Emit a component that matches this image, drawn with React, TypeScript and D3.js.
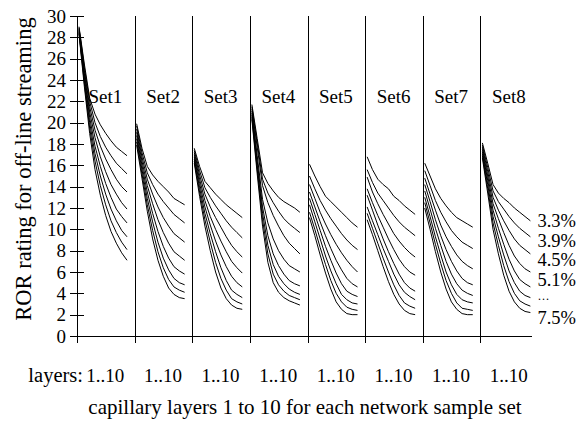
import React from 'react';
import * as d3 from 'd3';

// ROR rating per capillary layer (1..10), one row per loss rate 3.3% .. 7.5%
const set1Ror = [
  [29.0, 25.5, 22.3, 20.8, 19.8, 19.0, 18.3, 17.7, 17.3, 16.9],
  [28.9, 25.2, 22.0, 20.0, 18.7, 17.7, 16.9, 16.2, 15.7, 15.2],
  [28.8, 24.9, 21.5, 19.3, 17.8, 16.6, 15.6, 14.7, 14.0, 13.5],
  [28.7, 24.6, 21.0, 18.6, 16.8, 15.4, 14.2, 13.3, 12.5, 11.9],
  [28.6, 24.3, 20.5, 17.8, 15.9, 14.3, 13.0, 11.9, 11.2, 10.6],
  [28.5, 24.0, 20.0, 17.1, 15.0, 13.3, 11.9, 10.8, 9.9, 9.3],
  [28.4, 23.7, 19.5, 16.4, 14.1, 12.3, 10.8, 9.7, 8.8, 8.1],
  [28.3, 23.4, 19.0, 15.6, 13.2, 11.3, 9.8, 8.7, 7.8, 7.1],
];
const set2Ror = [
  [19.9, 17.6, 15.9, 15.1, 14.5, 14.0, 13.5, 12.9, 12.6, 12.3],
  [19.7, 17.2, 15.3, 14.2, 13.3, 12.6, 12.0, 11.4, 11.0, 10.6],
  [19.4, 16.8, 14.7, 13.3, 12.1, 11.1, 10.3, 9.6, 9.2, 8.8],
  [19.1, 16.4, 14.1, 12.4, 10.9, 9.7, 8.7, 7.9, 7.5, 7.1],
  [18.8, 16.0, 13.5, 11.5, 9.8, 8.4, 7.3, 6.5, 6.1, 5.8],
  [18.5, 15.6, 12.9, 10.7, 8.8, 7.3, 6.2, 5.4, 5.0, 4.8],
  [18.2, 15.2, 12.3, 9.9, 7.9, 6.4, 5.3, 4.6, 4.3, 4.1],
  [17.9, 14.8, 11.7, 9.1, 7.1, 5.6, 4.5, 3.9, 3.6, 3.5],
];
const set3Ror = [
  [17.6, 15.9, 14.5, 13.9, 13.3, 12.8, 12.3, 11.9, 11.5, 11.1],
  [17.4, 15.5, 13.9, 13.0, 12.2, 11.5, 10.8, 10.2, 9.7, 9.2],
  [17.2, 15.1, 13.3, 12.1, 11.1, 10.2, 9.3, 8.5, 7.9, 7.4],
  [17.0, 14.7, 12.7, 11.2, 10.0, 8.9, 7.9, 7.0, 6.4, 5.9],
  [16.8, 14.3, 12.1, 10.4, 8.9, 7.6, 6.5, 5.6, 5.0, 4.6],
  [16.6, 13.9, 11.5, 9.6, 7.9, 6.4, 5.2, 4.3, 3.9, 3.6],
  [16.4, 13.5, 10.9, 8.8, 6.9, 5.4, 4.3, 3.5, 3.2, 3.0],
  [16.2, 13.1, 10.3, 8.0, 6.0, 4.5, 3.5, 2.9, 2.6, 2.5],
];
const set4Ror = [
  [21.7, 18.5, 15.3, 14.3, 13.6, 13.0, 12.6, 12.3, 12.0, 11.6],
  [21.5, 18.1, 14.7, 13.4, 12.5, 11.7, 11.0, 10.5, 10.1, 9.7],
  [21.3, 17.7, 14.1, 12.5, 11.3, 10.3, 9.4, 8.7, 8.2, 7.7],
  [21.1, 16.9, 12.8, 10.6, 9.1, 8.0, 7.2, 6.6, 6.3, 6.0],
  [20.9, 16.4, 12.1, 9.4, 7.7, 6.6, 5.8, 5.2, 4.9, 4.7],
  [20.7, 16.0, 11.5, 8.5, 6.7, 5.6, 4.9, 4.4, 4.1, 3.9],
  [20.5, 15.6, 10.9, 7.7, 5.8, 4.8, 4.2, 3.8, 3.6, 3.4],
  [20.3, 15.2, 10.3, 6.9, 5.0, 4.1, 3.6, 3.3, 3.1, 2.9],
];
const set5Ror = [
  [16.1, 15.0, 14.0, 13.1, 12.6, 12.1, 11.6, 11.1, 10.6, 10.2],
  [15.0, 13.8, 12.7, 11.8, 11.0, 10.3, 9.6, 9.0, 8.5, 8.1],
  [14.2, 12.9, 11.6, 10.5, 9.5, 8.6, 7.8, 7.1, 6.5, 6.0],
  [13.5, 12.1, 10.7, 9.4, 8.2, 7.1, 6.2, 5.4, 4.9, 4.6],
  [12.9, 11.4, 9.9, 8.4, 7.1, 5.9, 4.9, 4.2, 3.9, 3.7],
  [12.3, 10.7, 9.1, 7.5, 6.1, 4.9, 3.9, 3.4, 3.1, 3.0],
  [11.6, 10.0, 8.3, 6.7, 5.2, 4.0, 3.2, 2.7, 2.5, 2.4],
  [11.1, 9.4, 7.6, 5.9, 4.4, 3.2, 2.5, 2.1, 2.0, 2.0],
];
const set6Ror = [
  [16.8, 15.6, 14.7, 14.2, 13.8, 13.1, 12.7, 12.2, 11.8, 11.4],
  [15.6, 14.4, 13.4, 12.7, 12.0, 11.3, 10.7, 10.2, 9.8, 9.4],
  [14.9, 13.5, 12.4, 11.4, 10.5, 9.6, 8.9, 8.3, 7.8, 7.4],
  [13.8, 12.5, 11.3, 10.2, 9.1, 8.1, 7.2, 6.5, 6.0, 5.7],
  [13.2, 11.8, 10.4, 9.1, 7.9, 6.8, 5.8, 5.0, 4.5, 4.2],
  [12.1, 10.8, 9.5, 8.2, 7.0, 5.8, 4.8, 4.1, 3.7, 3.4],
  [11.5, 10.1, 8.7, 7.3, 6.0, 4.8, 3.8, 3.1, 2.8, 2.6],
  [10.9, 9.5, 8.0, 6.5, 5.1, 3.9, 3.0, 2.4, 2.1, 2.0],
];
const set7Ror = [
  [16.2, 15.0, 13.8, 12.9, 12.2, 11.6, 11.1, 10.8, 10.5, 10.2],
  [15.5, 14.1, 12.7, 11.6, 10.7, 9.9, 9.3, 8.8, 8.5, 8.2],
  [14.8, 13.3, 11.8, 10.4, 9.3, 8.4, 7.6, 7.0, 6.6, 6.3],
  [14.2, 12.6, 10.9, 9.4, 8.1, 7.0, 6.1, 5.4, 5.0, 4.8],
  [13.6, 11.9, 10.1, 8.5, 7.0, 5.8, 4.9, 4.3, 4.0, 3.8],
  [13.0, 11.2, 9.3, 7.6, 6.0, 4.8, 3.9, 3.4, 3.2, 3.1],
  [12.5, 10.6, 8.6, 6.8, 5.2, 4.0, 3.1, 2.6, 2.5, 2.4],
  [12.0, 10.0, 7.9, 6.0, 4.4, 3.2, 2.5, 2.1, 2.0, 2.0],
];
const set8Ror = [
  [18.1, 16.2, 14.2, 13.4, 12.9, 12.5, 12.0, 11.6, 11.2, 10.8],
  [17.9, 15.8, 13.6, 12.6, 11.9, 11.2, 10.6, 10.1, 9.7, 9.3],
  [17.7, 15.4, 13.0, 11.8, 10.8, 9.9, 9.1, 8.5, 8.1, 7.7],
  [17.5, 15.0, 12.4, 11.0, 9.7, 8.5, 7.5, 6.8, 6.3, 6.0],
  [17.3, 14.6, 11.8, 10.1, 8.6, 7.2, 6.1, 5.3, 4.9, 4.6],
  [17.1, 14.2, 11.2, 9.3, 7.6, 6.1, 5.0, 4.2, 3.8, 3.6],
  [16.9, 13.8, 10.6, 8.5, 6.6, 5.1, 4.0, 3.3, 3.0, 2.8],
  [16.7, 13.4, 10.0, 7.7, 5.7, 4.2, 3.2, 2.6, 2.3, 2.2],
];

const setNames = ['Set1', 'Set2', 'Set3', 'Set4', 'Set5', 'Set6', 'Set7', 'Set8'];
const setCurves = [set1Ror, set2Ror, set3Ror, set4Ror, set5Ror, set6Ror, set7Ror, set8Ror];
const layers = [1, 2, 3, 4, 5, 6, 7, 8, 9, 10];
const yTicks = [0, 2, 4, 6, 8, 10, 12, 14, 16, 18, 20, 22, 24, 26, 28, 30];
const rateLabels = ['3.3%', '3.9%', '4.5%', '5.1%', '\u2026', '7.5%'];
const rateCurve = [0, 1, 2, 3, -1, 7];

const font = "'Liberation Serif', 'Times New Roman', Times, serif";

export default function App() {
  const left = 77;
  const right = 538;
  const top = 16;
  const bottom = 336;

  const y = d3.scaleLinear().domain([0, 30]).range([bottom, top]);
  const band = d3.scaleBand().domain(setNames).range([left, right]);
  const w = band.bandwidth();
  const lx = d3.scaleLinear().domain([1, 10]).range([2, 50]);

  const line = (s: string) =>
    d3
      .line<number>()
      .x((_, i) => (band(s) as number) + lx(layers[i]))
      .y((d) => y(d));

  const axisEnd = right - 6;

  // right-hand rate labels, stacked down the set8 curve ends
  const labelX = (band('Set8') as number) + lx(10) + 7;
  const labelY: number[] = [];
  rateCurve.forEach((c, i) => {
    const prev = i > 0 ? labelY[i - 1] : -Infinity;
    if (c < 0) labelY.push(prev + 21);
    else labelY.push(Math.max(y(set8Ror[c][9]), prev + (rateCurve[i - 1] < 0 ? 17 : 19.5)));
  });

  return (
    <svg
      width={577}
      height={421}
      style={{ position: 'absolute', left: 0, top: 0, background: '#fff', fontFamily: font }}
    >
      <rect width={577} height={421} fill="#fff" />
      {/* dividers between sets */}
      {setNames.slice(1).map((s) => (
        <line
          key={s}
          x1={Math.round(band(s) as number) + 0.5}
          x2={Math.round(band(s) as number) + 0.5}
          y1={top}
          y2={bottom}
          stroke="#000"
        />
      ))}
      {/* y axis */}
      <line x1={left + 0.5} x2={left + 0.5} y1={top} y2={bottom + 7} stroke="#000" />
      {yTicks.map((t) => (
        <g key={t}>
          <line
            x1={left - 7}
            x2={left + 7}
            y1={Math.round(y(t)) + 0.5}
            y2={Math.round(y(t)) + 0.5}
            stroke="#000"
          />
          <text x={66} y={y(t)} dy="0.35em" textAnchor="end" fontSize={19}>
            {t}
          </text>
        </g>
      ))}
      {/* x axis */}
      <line x1={left} x2={axisEnd} y1={bottom + 0.5} y2={bottom + 0.5} stroke="#000" />
      {setNames.map((s) => (
        <line
          key={s}
          x1={Math.round(band(s) as number) + 0.5}
          x2={Math.round(band(s) as number) + 0.5}
          y1={bottom}
          y2={bottom + 7}
          stroke="#000"
        />
      ))}
      {/* curves */}
      {setNames.map((s, si) => (
        <g key={s}>
          {setCurves[si].map((c, ci) => (
            <path key={ci} d={line(s)(c) as string} fill="none" stroke="#000" strokeWidth={1} />
          ))}
          <text x={(band(s) as number) + 11.5} y={103} fontSize={19}>
            {s}
          </text>
          <text x={(band(s) as number) + w / 2 - 0.5} y={382} textAnchor="middle" fontSize={19}>
            1..10
          </text>
        </g>
      ))}
      {rateLabels.map((l, i) => (
        <text
          key={i}
          x={labelX}
          y={labelY[i]}
          dy={rateCurve[i] < 0 ? '0' : '0.35em'}
          fontSize={rateCurve[i] < 0 ? 12 : 18.5}
        >
          {l}
        </text>
      ))}
      <text x={83} y={382} textAnchor="end" fontSize={20.5}>
        layers:
      </text>
      <text x={305} y={414} textAnchor="middle" fontSize={21}>
        capillary layers 1 to 10 for each network sample set
      </text>
      <text
        transform={`translate(31, ${(top + bottom) / 2 - 7}) rotate(-90)`}
        textAnchor="middle"
        fontSize={22.5}
      >
        ROR rating for off-line streaming
      </text>
    </svg>
  );
}
